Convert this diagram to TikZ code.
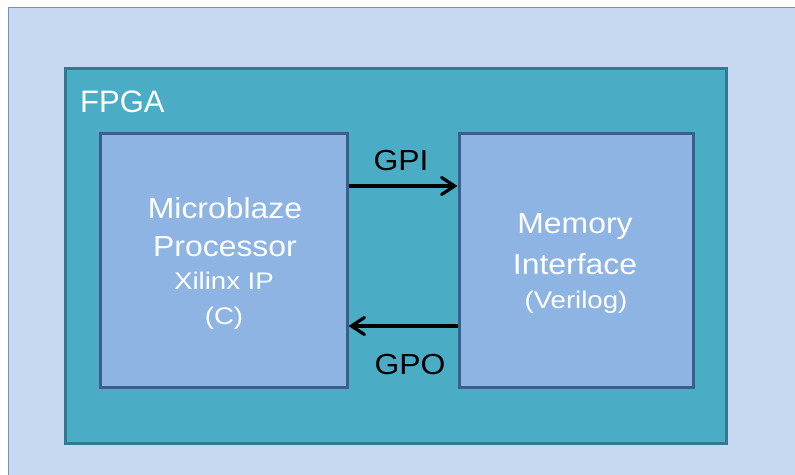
\documentclass[tikz,border=0pt]{standalone}
\usepackage{fontspec}
\setmainfont{Liberation Sans}
\usetikzlibrary{arrows.meta}
\definecolor{outerfill}{HTML}{C6D9F1}
\definecolor{outerline}{HTML}{6D93C9}
\definecolor{fpgafill}{HTML}{4BACC6}
\definecolor{fpgaline}{HTML}{31798E}
\definecolor{boxfill}{HTML}{8EB4E3}
\definecolor{boxline}{HTML}{3A5F8F}
\newcommand{\bigtxt}[1]{\fontsize{29}{34}\selectfont\scalebox{1.1}[1]{#1}}
\newcommand{\smalltxt}[1]{\fontsize{24}{28}\selectfont\scalebox{1.15}[1]{#1}}
\tikzset{
  outerbox/.style={draw=outerline, line width=1pt, fill=outerfill},
  fpgabox/.style={draw=fpgaline, line width=3pt, fill=fpgafill},
  blockbox/.style={draw=boxline, line width=3pt, fill=boxfill},
  wtext/.style={text=white, anchor=base, inner sep=0pt},
  btext/.style={text=black, anchor=base, inner sep=0pt},
  sig/.style={line width=3.2pt, black, -{Straight Barb[length=13pt,width=17pt,line cap=round]}}
}
\begin{document}
\begin{tikzpicture}[x=1pt,y=-1pt]
\useasboundingbox (0,0) rectangle (795,474);
\fill[white] (0,0) rectangle (795,474);
\draw[outerbox] (8,7) rectangle (810,490);
\draw[fpgabox] (65,68) rectangle (726,443);
\node[wtext, anchor=base west] (fpgalabel) at (80,112) {\fontsize{31}{36}\selectfont FPGA};
\node[blockbox, minimum width=247pt, minimum height=254pt, inner sep=0pt] (mb) at (223.5,260) {};
\node[blockbox, minimum width=234pt, minimum height=254pt, inner sep=0pt] (mem) at (576,260) {};
\node[wtext] (t1) at (225,218) {\bigtxt{Microblaze}};
\node[wtext] (t2) at (225,256) {\bigtxt{Processor}};
\node[wtext] (t3) at (224,289) {\smalltxt{Xilinx IP}};
\node[wtext] (t4) at (224,324) {\smalltxt{(C)}};
\node[wtext] (t5) at (575,233) {\bigtxt{Memory}};
\node[wtext] (t6) at (575,274) {\bigtxt{Interface}};
\node[wtext] (t7) at (576,308) {\smalltxt{(Verilog)}};
\coordinate (gpiy) at (0,186);
\coordinate (gpoy) at (0,326);
\draw[sig] (mb.east |- gpiy) -- (mem.west |- gpiy);
\draw[sig] (mem.west |- gpoy) -- (mb.east |- gpoy);
\node[btext] (gpi) at (401,170) {\bigtxt{GPI}};
\node[btext] (gpo) at (410,374) {\bigtxt{GPO}};
\end{tikzpicture}
\end{document}
